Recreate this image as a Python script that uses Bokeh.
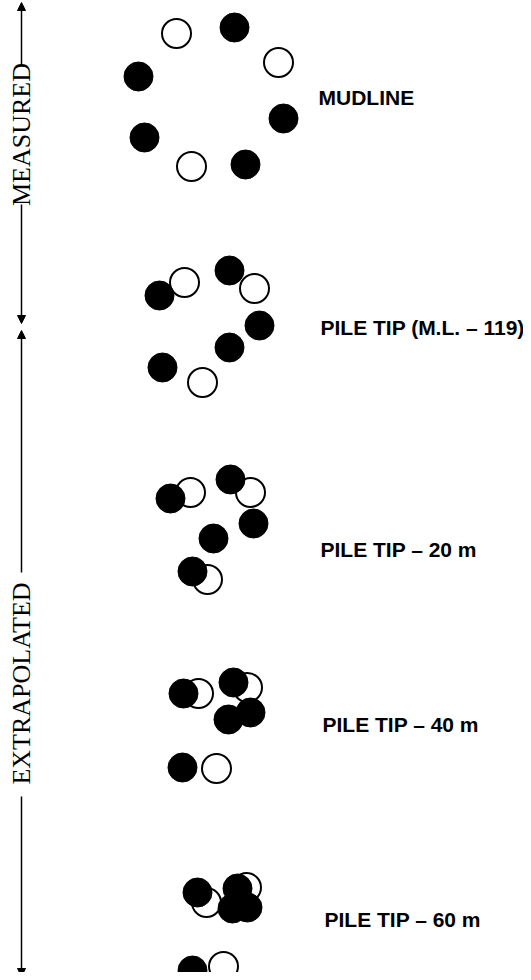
from bokeh.plotting import figure
from bokeh.models import Range1d, Label, Arrow, NormalHead
from bokeh.embed import file_html
from bokeh.resources import INLINE

# Plan positions of piles at each level (figure units, y grows downward)
level_names = ["MUDLINE", "PILE TIP (M.L. \u2013 119)", "PILE TIP \u2013 20 m",
               "PILE TIP \u2013 40 m", "PILE TIP \u2013 60 m"]
label_x = [318, 320, 320, 322, 324]
label_y = [97, 327, 549, 724, 919]

open_x = [176, 278, 191,   184, 254, 202,   190, 250, 207,   198, 247, 216,   206, 246, 223]
open_y = [33, 62, 166,     282, 288, 382,   492, 492, 579,   693, 687, 768,   902, 887, 966]

filled_x = [234, 138, 283, 144, 245,   229, 159, 259, 229, 162,   230, 170, 253, 213, 192,
            233, 183, 250, 228, 182,   237, 197, 247, 232, 192]
filled_y = [27, 76, 118, 137, 164,     270, 295, 325, 347, 367,   479, 498, 523, 538, 571,
            682, 693, 712, 719, 767,   888, 892, 907, 908, 970]

# Left-hand range annotations
range_names = ["MEASURED", "EXTRAPOLATED"]
range_text_y = [134, 683]

W, H = 523, 972
p = figure(width=W, height=H, output_backend="svg", toolbar_location=None,
           x_range=Range1d(0, W), y_range=Range1d(H, 0), min_border=0)
p.axis.visible = False
p.grid.visible = False
p.outline_line_color = None
p.background_fill_color = "white"

p.scatter(open_x, open_y, size=29, fill_color="white", line_color="black", line_width=2)
p.scatter(filled_x, filled_y, size=29, fill_color="black", line_color="black", line_width=1)

for t, x, y in zip(level_names, label_x, label_y):
    p.add_layout(Label(x=x, y=y, text=t, text_font="Liberation Sans", text_font_size="21px",
                       text_font_style="bold", text_baseline="middle", text_align="left",
                       text_color="black"))

lx = 21
for t, y in zip(range_names, range_text_y):
    p.add_layout(Label(x=lx, y=y, text=t, angle=1.5708, text_font="Liberation Serif",
                       text_font_size="26px", text_baseline="middle", text_align="center",
                       text_color="black"))

def arrow(y0, y1):
    p.add_layout(Arrow(end=NormalHead(size=8, line_color="black", fill_color="black"),
                       x_start=lx, y_start=y0, x_end=lx, y_end=y1,
                       line_color="black", line_width=1.5))

arrow(64, 2)
arrow(204, 323)
arrow(572, 330)
arrow(796, 976)

open("out.html", "w").write(file_html(p, INLINE))
